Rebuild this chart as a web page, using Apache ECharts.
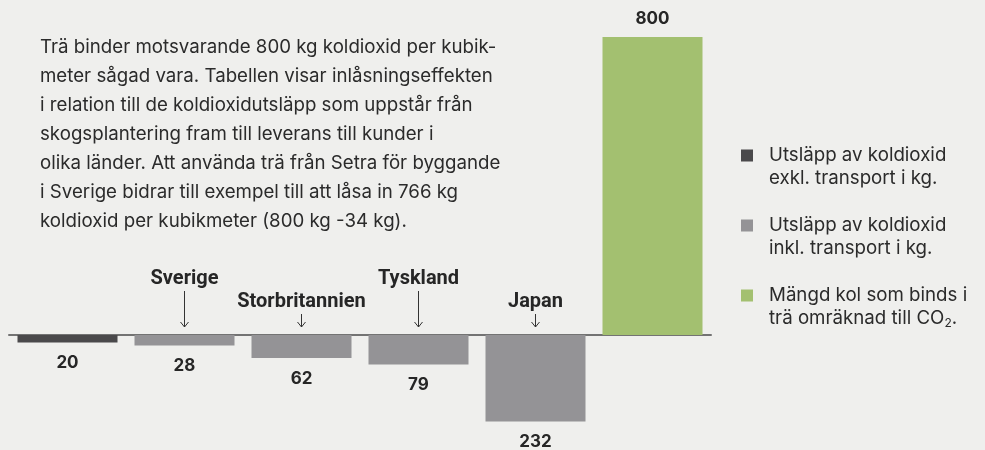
<!DOCTYPE html>
<html>
<head>
<meta charset="utf-8">
<script src="https://cdn.jsdelivr.net/npm/echarts@6/dist/echarts.min.js"></script>
<style>
  html, body { margin: 0; padding: 0; background: #efefed; }
  #main { width: 985px; height: 450px; }
</style>
</head>
<body>
<div id="main"></div>
<script>
// data
const categories = ['Exkl. transport', 'Sverige', 'Storbritannien', 'Tyskland', 'Japan', 'Inbunden'];
const countryNames = ['', 'Sverige', 'Storbritannien', 'Tyskland', 'Japan', ''];
const exclTransport = [-20, '-', '-', '-', '-', '-'];
const inclTransport = ['-', -28, -62, -79, -232, '-'];
const boundCarbon = ['-', '-', '-', '-', '-', 800];
const legendNames = [
  'Utsläpp av koldioxid\nexkl. transport i kg.',
  'Utsläpp av koldioxid\ninkl. transport i kg.',
  'Mängd kol som binds i\nträ omräknad till CO2.'
];
const introText = 'Trä binder motsvarande 800 kg koldioxid per kubik-\n' +
  'meter sågad vara. Tabellen visar inlåsningseffekten\n' +
  'i relation till de koldioxidutsläpp som uppstår från\n' +
  'skogsplantering fram till leverans till kunder i\n' +
  'olika länder. Att använda trä från Setra för byggande\n' +
  'i Sverige bidrar till exempel till att låsa in 766 kg\n' +
  'koldioxid per kubikmeter (800 kg -34 kg).';

const textFont = 'Inter, Roboto, sans-serif';
const boldFont = 'Roboto, sans-serif';

const myChart = echarts.init(document.getElementById('main'));

// etiketter med pil ovanför staplarna
function renderCountry(params, api) {
  const idx = api.value(0);
  const p = api.coord([idx, 0]);
  const tall = idx % 2 === 1;
  const textY = p[1] - (tall ? 56 : 33);
  const lineTop = p[1] - (tall ? 44 : 21);
  const tip = p[1] - 8;
  return {
    type: 'group',
    children: [
      {
        type: 'text',
        style: {
          x: p[0], y: textY, text: countryNames[idx],
          align: 'center', verticalAlign: 'middle',
          font: 'bold 20px ' + boldFont, fill: '#262626'
        }
      },
      {
        type: 'polyline',
        shape: { points: [[p[0], lineTop], [p[0], tip]] },
        style: { stroke: '#333', lineWidth: 1 }
      },
      {
        type: 'polyline',
        shape: { points: [[p[0] - 4, tip - 5], [p[0], tip], [p[0] + 4, tip - 5]] },
        style: { stroke: '#333', lineWidth: 1, fill: null }
      }
    ]
  };
}

const valueLabel = {
  show: true,
  fontFamily: textFont,
  fontWeight: 'bold',
  fontSize: 17,
  color: '#262626',
  formatter: p => Math.abs(p.value)
};

const legendIcon = 'path://M0,0h0.05v0.05h-0.05zM0,5.5h12v12h-12zM0,45.95h0.05v0.05h-0.05z';

let option = {
  backgroundColor: '#efefed',
  animation: false,
  title: {
    text: introText,
    left: 40,
    top: 33,
    padding: 0,
    textStyle: {
      fontFamily: textFont,
      fontWeight: 'normal',
      fontSize: 18.7,
      lineHeight: 29,
      color: '#2b2b2b'
    }
  },
  legend: {
    data: legendNames,
    orient: 'vertical',
    left: 741,
    top: 144,
    padding: 0,
    itemWidth: 12,
    itemHeight: 46,
    itemGap: 24,
    icon: legendIcon,
    selectedMode: false,
    formatter: name => name.replace('CO2', 'CO{sub|2}'),
    textStyle: {
      fontFamily: textFont,
      fontSize: 18.7,
      lineHeight: 23,
      color: '#2b2b2b',
      padding: [0, 0, 0, 11],
      rich: {
        sub: { fontSize: 12, fontFamily: textFont, color: '#2b2b2b', padding: [10, 0, 0, 0] }
      }
    }
  },
  grid: {
    left: 9,
    width: 702,
    top: 37,
    height: 409.75
  },
  xAxis: {
    type: 'category',
    data: categories,
    axisLine: { onZero: true, lineStyle: { color: '#737373', width: 2 } },
    axisTick: { show: false },
    axisLabel: { show: false }
  },
  yAxis: {
    type: 'value',
    min: -300,
    max: 800,
    show: false,
    splitLine: { show: false }
  },
  series: [
    {
      name: legendNames[0],
      type: 'bar',
      stack: 'co2',
      barWidth: 100,
      data: exclTransport,
      itemStyle: { color: '#4a494b' },
      label: Object.assign({ position: 'bottom', distance: 12 }, valueLabel)
    },
    {
      name: legendNames[1],
      type: 'bar',
      stack: 'co2',
      barWidth: 100,
      data: inclTransport,
      itemStyle: { color: '#949396' },
      label: Object.assign({ position: 'bottom', distance: 12 }, valueLabel)
    },
    {
      name: legendNames[2],
      type: 'bar',
      stack: 'co2',
      barWidth: 100,
      data: boundCarbon,
      itemStyle: { color: '#a3c070' },
      label: Object.assign({ position: 'top', distance: 10 }, valueLabel)
    },
    {
      type: 'custom',
      renderItem: renderCountry,
      data: countryNames.map((n, i) => [i, 0]).filter(d => countryNames[d[0]]),
      z: 5
    }
  ]
};

myChart.setOption(option);
window.addEventListener('resize', function () {
  myChart.resize();
});
</script>
</body>
</html>
